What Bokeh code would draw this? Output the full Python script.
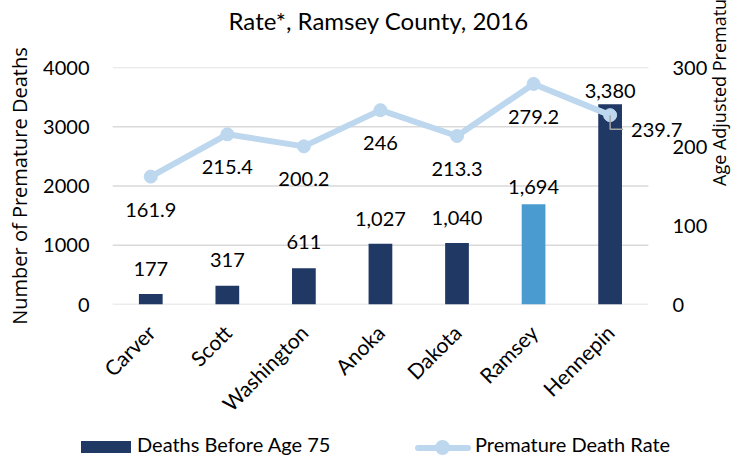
import math
from bokeh.plotting import figure
from bokeh.layouts import column
from bokeh.models import (Range1d, LinearAxis, FixedTicker, ColumnDataSource, Title, Div)
from bokeh.embed import file_html
from bokeh.resources import INLINE
from bokeh.core.properties import value

# ---------------- data ----------------
counties = ["Carver", "Scott", "Washington", "Anoka", "Dakota", "Ramsey", "Hennepin"]
deaths = [177, 317, 611, 1027, 1040, 1694, 3380]
rates = [161.9, 215.4, 200.2, 246, 213.3, 279.2, 239.7]
left_ticks = [0, 1000, 2000, 3000, 4000]
right_ticks = [0, 100, 200, 300]

title_text = "Rate*, Ramsey County, 2016"
left_title = "Number of Premature Deaths"
right_title = "Age Adjusted Premature Death Rate*"
bar_legend = "Deaths Before Age 75"
line_legend = "Premature Death Rate"
highlight_county = "Ramsey"

# ---------------- styles ----------------
NAVY = "#203864"
HIGHLIGHT = "#4A9BD0"
LINE = "#BDD7EE"
GRID = "#D9D9D9"
LEADER = "#A6A6A6"
FONT = "Lato"
TFONT = "Open Sans"
FS = "20px"
bar_label_offsets = [-25, -26, -26, -25, -25, -17, -13]   # pixels above bar top
rate_label_offset = 33                                   # pixels below point

n = len(counties)
xpos = list(range(n))                      # category slots
bar_colors = [HIGHLIGHT if c == highlight_county else NAVY for c in counties]

src = ColumnDataSource(dict(
    x=xpos, county=counties, deaths=deaths, rate=rates, color=bar_colors,
    deaths_label=[f"{d:,}" for d in deaths], bar_off=bar_label_offsets,
))
main_src = ColumnDataSource(dict(
    x=xpos[:-1], rate=rates[:-1], rate_label=[f"{r:g}" for r in rates[:-1]]))
last_src = ColumnDataSource(dict(
    x=xpos[-1:], rate=rates[-1:], rate_label=[f"{r:g}" for r in rates[-1:]]))

# ---------------- main chart ----------------
p = figure(title=None, x_range=Range1d(-0.5, n - 0.5 + 0.55), y_range=Range1d(0, 4000),
           width=747, height=427, output_backend="svg", toolbar_location=None,
           min_border_left=112, min_border_right=57, min_border_top=67, min_border_bottom=122)
p.extra_y_ranges = {"rate": Range1d(0, 300)}
p.outline_line_color = None
p.background_fill_color = "white"
p.border_fill_color = "white"
p.xgrid.grid_line_color = None
p.ygrid.grid_line_color = None

# title: an invisible spacer next to the plot, the real title outside it
p.add_layout(Title(text=" ", text_font_size="10px", standoff=20), "above")
p.add_layout(Title(text=title_text, align="left", offset=116, standoff=0,
                   vertical_align="bottom", text_font=FONT, text_font_size="24px",
                   text_font_style="normal", text_color="black"), "above")

# horizontal gridlines spanning the category slots only
p.segment(x0=-0.5, x1=n - 0.5, y0=left_ticks, y1=left_ticks,
          line_color=GRID, line_width=1.5)

# bars
p.vbar(x="x", top="deaths", width=0.31, fill_color="color", line_color=None, source=src)

# rate line
p.line(x="x", y="rate", y_range_name="rate", line_color=LINE, line_width=6,
       line_join="round", source=src)
p.scatter(x="x", y="rate", y_range_name="rate", size=13, fill_color=LINE,
          line_color=LINE, source=src)

# leader line for the last label
p.line(x=[xpos[-1], xpos[-1], xpos[-1] + 0.17],
       y=[rates[-1], rates[-1] - 18, rates[-1] - 18], y_range_name="rate",
       line_color=LEADER, line_width=1.5)

# bar value labels
p.text(x="x", y="deaths", text="deaths_label", y_offset="bar_off", source=src,
       text_align="center", text_baseline="middle", text_font=value(FONT),
       text_font_size=FS, text_color="black")

# rate value labels
p.text(x="x", y="rate", text="rate_label", y_offset=rate_label_offset, source=main_src,
       y_range_name="rate", text_align="center", text_baseline="middle",
       text_font=value(FONT), text_font_size=FS, text_color="black")
p.text(x="x", y="rate", text="rate_label", x_offset=21, y_offset=15, source=last_src,
       y_range_name="rate", text_align="left", text_baseline="middle",
       text_font=value(FONT), text_font_size=FS, text_color="black")

# axes
def style_axis(ax, size=FS, label_size=FS):
    ax.major_tick_out = 0
    ax.major_tick_in = 0
    ax.minor_tick_out = 0
    ax.minor_tick_in = 0
    ax.axis_line_color = None
    ax.major_label_text_font = FONT
    ax.major_label_text_font_size = size
    ax.major_label_text_color = "black"
    ax.axis_label_text_font = TFONT
    ax.axis_label_text_font_size = label_size
    ax.axis_label_text_font_style = "normal"
    ax.axis_label_text_color = "black"

ya = p.yaxis[0]
ya.ticker = FixedTicker(ticks=left_ticks)
ya.major_label_standoff = 23
style_axis(ya)
ya.axis_label = left_title
ya.axis_label_standoff = 7

ra = LinearAxis(y_range_name="rate", ticker=FixedTicker(ticks=right_ticks))
style_axis(ra, label_size="18px")
ra.major_label_standoff = -18
ra.axis_label = right_title
ra.axis_label_standoff = 9
try:
    ra.axis_label_orientation = math.pi / 2
except Exception:
    pass
ra.axis_label_text_align = "center"
p.add_layout(ra, "right")

xa = p.xaxis[0]
xa.ticker = FixedTicker(ticks=xpos)
xa.major_label_overrides = {i: c for i, c in zip(xpos, counties)}
style_axis(xa, "21px")
xa.major_label_orientation = math.pi / 4
xa.major_label_standoff = 24

# ---------------- legend strip (real text, simple swatches) ----------------
legend_html = f"""
<div style="position:relative;width:747px;height:29px;font-family:{FONT};font-size:20px;color:black;">
  <div style="position:absolute;left:81px;top:14px;width:50px;height:12px;background:{NAVY};"></div>
  <span style="position:absolute;left:137px;top:5px;line-height:24px;white-space:nowrap;">{bar_legend}</span>
  <div style="position:absolute;left:415px;top:18px;width:56px;height:6px;border-radius:3px;background:{LINE};"></div>
  <div style="position:absolute;left:435px;top:13px;width:15px;height:15px;border-radius:50%;background:{LINE};"></div>
  <span style="position:absolute;left:475px;top:5px;line-height:24px;white-space:nowrap;">{line_legend}</span>
</div>"""
legend_div = Div(text=legend_html, width=747, height=29, margin=0)

layout = column(p, legend_div, spacing=0)
open("out.html", "w").write(file_html(layout, INLINE))
